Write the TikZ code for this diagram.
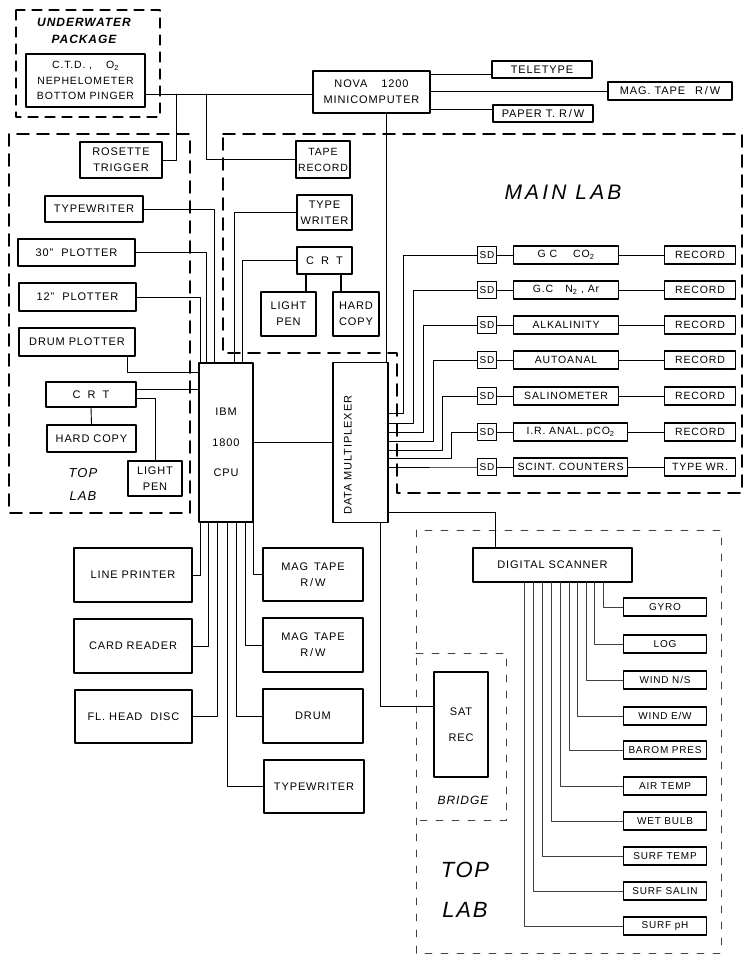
\documentclass[tikz,border=0pt]{standalone}
\usepackage{fontspec}
\setmainfont{Liberation Sans}[LetterSpace=8]
\newfontfamily\bigfam{Liberation Sans}[LetterSpace=15]
\newcommand{\subs}[1]{\textsubscript{#1}}
\newcommand{\crtText}{C\hspace{7pt}R\hspace{7pt}T}
\begin{document}
\begin{tikzpicture}[x=1pt, y=-1pt, line cap=round, line join=round]
% sizes are pixels of the 746x955 sheet, y downwards
\providecommand{\wireWidth}{0.9pt}
\providecommand{\boxWidth}{1.1pt}
\tikzset{
  box/.style={draw, line width=\boxWidth, inner sep=1pt, align=center, font=\fontsize{11}{16}\selectfont},
  sz/.style 2 args={minimum width=#1pt, minimum height=#2pt},
  wire/.style={line width=\wireWidth},
  labdash/.style={line width=1.8pt, dash pattern=on 12pt off 8pt},
  thindash/.style={line width=0.8pt, black!75, dash pattern=on 7pt off 9pt},
  tag/.style={align=center, font=\fontsize{13}{23}\selectfont\itshape},
}
\useasboundingbox (0,0) rectangle (746,955);
% Underwater package
\draw[line width=1.2pt, dash pattern=on 10pt off 7pt] (16,10) rectangle (160,117);
\node[tag, font=\fontsize{12}{17}\selectfont\bfseries\itshape] (uwlbl) at (84,31) {UNDERWATER\\PACKAGE};
\node[box, sz={119}{53}, font=\fontsize{10.5}{15.5}\selectfont] (ctd) at (85.5,80.5) {C.T.D.\ ,\hspace{14pt}O\subs{2}\\NEPHELOMETER\\BOTTOM PINGER};
% Nova and its peripherals
\node[box, sz={117}{42}] (nova) at (371.5,92) {NOVA\hspace{14pt}1200\\MINICOMPUTER};
\node[box, sz={100}{17}] (tele) at (542,69.5) {TELETYPE};
\node[box, sz={124}{18}] (magnova) at (670,91) {MAG.\ TAPE\hspace{10pt}R\,/\,W};
\node[box, sz={100}{17}] (paper) at (543,113.5) {PAPER T.\ R\,/\,W};
\draw[wire] (ctd.east |- 0,94) -- (nova.west |- 0,94);
\draw[wire] (nova.east |- 0,74) -- (tele.west |- 0,74);
\draw[wire] (nova.east |- 0,91) -- (magnova.west);
\draw[wire] (nova.east |- 0,109) -- (paper.west |- 0,109);
\coordinate (jros) at (176,94);
\coordinate (jtape) at (206,94);
\node[box, sz={82}{36}] (rose) at (121,160) {ROSETTE\\TRIGGER};
\node[box, sz={54}{37}, font=\fontsize{10.5}{16}\selectfont] (taperec) at (323,159.5) {TAPE\\RECORD};
\draw[wire] (jros) |- (rose.east);
\draw[wire] (jtape) |- (taperec.west);
% Top lab (left)
\draw[labdash] (9,134) rectangle (190,513);
\node[box, sz={98}{26}] (typw1) at (94,209) {TYPEWRITER};
\node[box, sz={117}{27}] (plot30) at (76.5,252.5) {30''\hspace{8pt}PLOTTER};
\node[box, sz={117}{28}] (plot12) at (77.5,297) {12''\hspace{8pt}PLOTTER};
\node[box, sz={116}{28}] (drplot) at (77,342) {DRUM PLOTTER};
\node[box, sz={90}{25}] (crt1) at (91,394.5) {\crtText};
\node[box, sz={89}{27}] (hc1) at (91.5,438.5) {HARD COPY};
\node[box, sz={54}{35}] (pen1) at (155,478.5) {LIGHT\\PEN};
\node[tag] (toplbl) at (83,484.5) {TOP\\LAB};
% CPU
\node[box, sz={54}{159}, font=\fontsize{11}{30.5}\selectfont] (cpu) at (226,442.5) {IBM\\1800\\CPU};
\draw[wire] (typw1.east) -| ([xshift=16pt]cpu.north west);
\draw[wire] (plot30.east) -| ([xshift=8pt]cpu.north west);
\draw[wire] (plot12.east) -| ([xshift=2pt]cpu.north west);
\draw[wire] ([xshift=-8pt]drplot.south east) |- (cpu.west |- 0,372);
\draw[wire] (crt1.east |- 0,389) -- (cpu.west |- 0,389);
\draw[wire] (crt1.east |- 0,398) -| (pen1.north);
\draw[wire] (crt1.south) -- (hc1.north);
% Main lab
\draw[labdash] (223,134) -- (742,134) -- (742,493) -- (397,493) -- (397,353) -- (223,353) -- cycle;
\node[font=\bigfam\itshape\fontsize{21}{21}\selectfont] (mainlbl) at (563,192) {MAIN LAB};
\node[box, sz={55}{35}] (typw2) at (324.5,212.5) {TYPE\\WRITER};
\node[box, sz={55}{27}] (crt2) at (324.5,260.5) {\crtText};
\node[box, sz={55}{44}] (pen2) at (288.5,314) {LIGHT\\PEN};
\node[box, sz={46}{44}] (hc2) at (356,314) {HARD\\COPY};
\draw[wire] (typw2.west) -| ([xshift=36pt]cpu.north west);
\draw[wire] (crt2.west) -| ([xshift=44pt]cpu.north west);
\draw[line width=1.6pt] (crt2.south -| 306,0) -- (pen2.north -| 306,0);
\draw[line width=1.6pt] (crt2.south -| 341,0) -- (hc2.north -| 341,0);
% Data multiplexer
\node[box, sz={55}{160}] (dm) at (360.5,442.5) {};
\node[rotate=90, font=\fontsize{11}{12}\selectfont] (dmlbl) at (348,455) {DATA MULTIPLEXER};
\draw[wire] (cpu.east) -- (dm.west);
\draw[wire] (nova.south -| 386,0) -- (dm.north -| 386,0);
% Instrument rows
\foreach \r/\yy/\mw/\mtxt/\rtxt/\vx/\dy in {
  1/255/105/{G C\hspace{16pt}CO\subs{2}}/RECORD/403/413,
  2/290/105/{G.C\hspace{12pt}N\subs{2} , Ar}/RECORD/413/423,
  3/325/105/ALKALINITY/RECORD/423/432,
  4/360/105/AUTOANAL/RECORD/433/441,
  5/396/105/SALINOMETER/RECORD/442/450,
  6/432/114/{I.R.\ ANAL.\ pCO\subs{2}}/RECORD/451/458,
  7/467/114/{SCINT.\ COUNTERS}/{TYPE WR.}/470/467}
{
  \node[box, sz={19}{17}, anchor=west, font=\fontsize{10}{12}\selectfont] (sd\r) at (477,\yy) {SD};
  \node[box, sz={\mw}{18}, anchor=west, font=\fontsize{10.5}{12}\selectfont] (mid\r) at (513,\yy) {\mtxt};
  \node[box, sz={71}{18}, anchor=west, font=\fontsize{10.5}{12}\selectfont] (rec\r) at (664,\yy) {\rtxt};
  \draw[wire] (sd\r.west) -| (\vx,\dy) -- (dm.east |- 0,\dy);
  \draw[wire] (sd\r) -- (mid\r);
  \draw[wire] (mid\r) -- (rec\r);
}
% CPU peripherals
\begin{scope}[wire/.append style={line width=0.75pt}]
  \node[box, sz={118}{54}] (lprint) at (133,575) {LINE PRINTER};
  \node[box, sz={118}{54}] (cread) at (133,646) {CARD READER};
  \node[box, sz={117}{53}] (flhd) at (133.5,716.5) {FL.\ HEAD\hspace{8pt}DISC};
  \node[box, sz={100}{53}] (mt1) at (313,574.5) {MAG\hspace{6pt}TAPE\\R\,/\,W};
  \node[box, sz={100}{54}] (mt2) at (313,645) {MAG\hspace{6pt}TAPE\\R\,/\,W};
  \node[box, sz={100}{54}] (drum) at (313,716) {DRUM};
  \node[box, sz={100}{53}] (typw3) at (314,786.5) {TYPEWRITER};
  \draw[wire] (lprint.east) -| ([xshift=2pt]cpu.south west);
  \draw[wire] (cread.east) -| ([xshift=10pt]cpu.south west);
  \draw[wire] (flhd.east) -| ([xshift=19pt]cpu.south west);
  \draw[wire] (typw3.west) -| ([xshift=29pt]cpu.south west);
  \draw[wire] (drum.west) -| ([xshift=38pt]cpu.south west);
  \draw[wire] (mt2.west) -| ([xshift=47pt]cpu.south west);
  \draw[wire] (mt1.west) -| (cpu.south east);
\end{scope}
% Bridge and top lab (right)
\draw[thindash] (416,530) rectangle (721,953);
\draw[thindash] (416,653) -- (506,653) -- (506,820) -- (416,820);
\node[box, sz={159}{34}] (dscan) at (552.5,565) {DIGITAL SCANNER};
\node[box, sz={54}{105}, font=\fontsize{11}{26}\selectfont] (satrec) at (461,724.5) {SAT\\REC};
\node[font=\fontsize{12}{14}\selectfont\itshape] (brlbl) at (463,800) {BRIDGE};
\node[tag, font=\fontsize{22}{40}\selectfont\itshape] (toplbl2) at (465,890) {TOP\\LAB};
\draw[wire] (dm.east |- 0,512) -| (dscan.north -| 495,0);
\draw[wire] (dm.south -| 380,0) |- (satrec.west |- 0,706);
\foreach \nm/\txt/\yy/\dx in {gyro/GYRO/607/131, log/LOG/644/122,
  windns/{WIND N/S}/680/114, windew/{WIND E/W}/716/105,
  barom/{BAROM PRES}/750/97, air/{AIR TEMP}/786/88,
  wet/{WET BULB}/821/79, stemp/{SURF TEMP}/856/70,
  ssal/{SURF SALIN}/891/61, sph/{SURF pH}/926/52}
{
  \node[box, sz={83}{18}, anchor=west, font=\fontsize{10}{12}\selectfont] (\nm) at (623,\yy) {\txt};
  \draw[line width=0.75pt, black!75] ([xshift=\dx pt]dscan.south west) |- (\nm.west);
}
\end{tikzpicture}
\end{document}
